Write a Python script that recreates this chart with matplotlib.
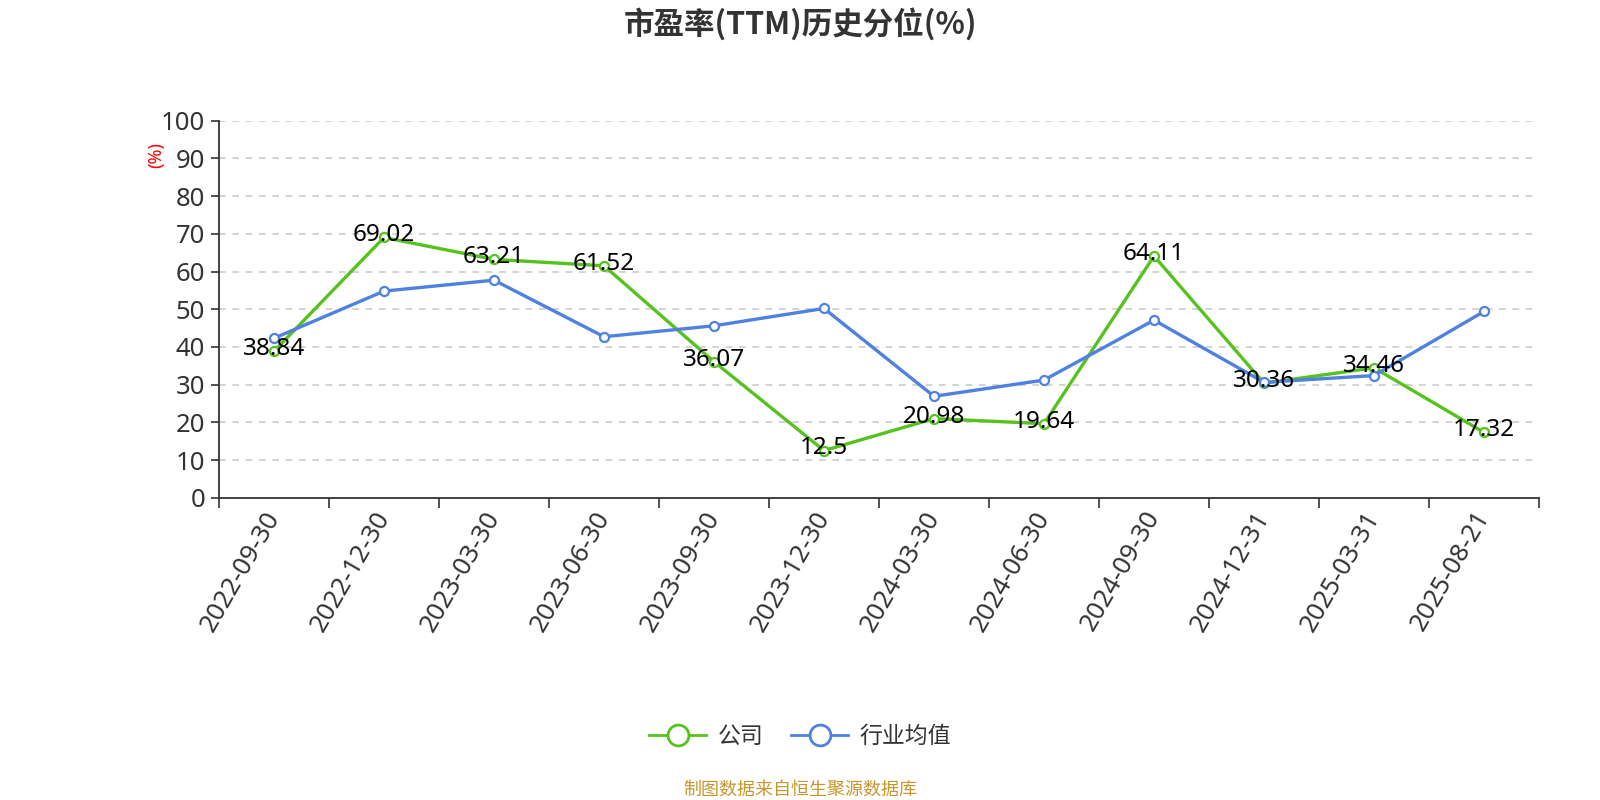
import matplotlib
matplotlib.use("Agg")
import matplotlib.pyplot as plt
from matplotlib.lines import Line2D
import numpy as np

plt.rcParams['font.family'] = ['Noto Sans', 'Noto Sans CJK SC', 'DejaVu Sans']

dates = ["2022-09-30", "2022-12-30", "2023-03-30", "2023-06-30", "2023-09-30",
         "2023-12-30", "2024-03-30", "2024-06-30", "2024-09-30", "2024-12-31",
         "2025-03-31", "2025-08-21"]
company = [38.84, 69.02, 63.21, 61.52, 36.07, 12.5, 20.98, 19.64, 64.11, 30.36, 34.46, 17.32]
industry = [42.3, 54.8, 57.7, 42.7, 45.6, 50.2, 26.9, 31.2, 47.1, 30.6, 32.4, 49.4]
company_labels = ["38.84", "69.02", "63.21", "61.52", "36.07", "12.5", "20.98", "19.64",
                  "64.11", "30.36", "34.46", "17.32"]

GREEN = "#56c21e"
BLUE = "#4f81e0"
DARK = "#333333"

fig = plt.figure(figsize=(16, 8), dpi=100)
ax = fig.add_axes([219/1600, 1-497.7/800, 1320/1600, (497.7-120.7)/800])

x = np.arange(len(dates))
ax.plot(x, company, color=GREEN, lw=2.4, marker='o', ms=6.5, mfc='white',
        mec=GREEN, mew=1.6, zorder=3)
ax.plot(x, industry, color=BLUE, lw=2.4, marker='o', ms=6.5, mfc='white',
        mec=BLUE, mew=1.6, zorder=4)

for xi, v, lab in zip(x, company, company_labels):
    ax.annotate(lab, (xi, v), xytext=(0, 1.5), textcoords='offset points',
                ha='center', va='center', fontsize=17.5, color='black', zorder=5)

ax.set_xlim(-0.5, len(dates) - 0.5)
ax.set_ylim(0, 100)
ax.set_yticks(np.arange(0, 101, 10))
ax.tick_params(axis='y', labelsize=18.5, colors=DARK, length=6, width=1.2, direction='out', pad=4)
for yv in range(10, 101, 10):
    ax.axhline(yv, color='#cccccc', lw=1.2, ls=(0, (4, 4)), zorder=1)

ax.set_xticks(x)
ax.set_xticklabels(dates, rotation=60, ha='right', va='center', rotation_mode='anchor',
                   fontsize=18.5, color=DARK)
ax.tick_params(axis='x', which='major', length=0, pad=11)
ax.set_xticks(np.arange(-0.5, len(dates) + 0.5, 1), minor=True)
ax.tick_params(axis='x', which='minor', length=7, width=1.2, color=DARK)

for s in ['top', 'right']:
    ax.spines[s].set_visible(False)
for s in ['left', 'bottom']:
    ax.spines[s].set_color(DARK)
    ax.spines[s].set_linewidth(1.3)

fig.text(156/1600, 1-155/800, "(%)", rotation=90, color='red', fontsize=13,
         ha='center', va='center')

fig.text(0.5, 1-24/800, "市盈率(TTM)历史分位(%)", ha='center', va='center',
         fontsize=22, fontweight='bold', color=DARK, family=['Noto Sans CJK SC', 'DejaVu Sans'])

handles = [Line2D([], [], color=GREEN, lw=2, marker='o', ms=15, mfc='white', mec=GREEN, mew=2),
           Line2D([], [], color=BLUE, lw=2, marker='o', ms=15, mfc='white', mec=BLUE, mew=2)]
fig.legend(handles, ["公司", "行业均值"], loc='center', bbox_to_anchor=(0.5, 1-737/800),
           ncol=2, frameon=False, fontsize=16.5, handlelength=2.5, columnspacing=1.2,
           handletextpad=0.5, labelcolor=DARK)

fig.text(0.5, 1-790/800, "制图数据来自恒生聚源数据库", ha='center', va='center',
         fontsize=13, color='#c8962e')

fig.savefig("out.png", dpi=100)
